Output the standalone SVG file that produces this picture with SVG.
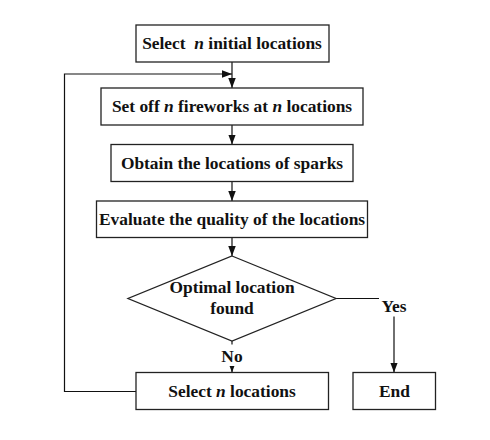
<svg xmlns="http://www.w3.org/2000/svg" width="490" height="440" viewBox="0 0 490 440">
<style>
.box{fill:#fff;stroke:#222;stroke-width:1.3}
.ln{fill:none;stroke:#111;stroke-width:1.2}
.t{font-family:"Liberation Serif","Times New Roman",serif;font-weight:bold;font-size:17.4px;fill:#111;text-anchor:middle}
.i{font-style:italic}
.bg{fill:#fff;stroke:none}
</style>
<defs>
<marker id="ah" markerUnits="userSpaceOnUse" markerWidth="10" markerHeight="8" refX="10" refY="3.75" orient="auto">
<path d="M0,0 L10,3.75 L0,7.5 z" fill="#111"/>
</marker>
</defs>
<rect width="490" height="440" fill="#fff"/>
<g id="connectors">
<path class="ln" d="M232,62 V88" marker-end="url(#ah)"/>
<path class="ln" d="M136,391.5 H64.5 V74 H232" marker-end="url(#ah)"/>
<path class="ln" d="M232,125 V144.5" marker-end="url(#ah)"/>
<path class="ln" d="M232,181.5 V201" marker-end="url(#ah)"/>
<path class="ln" d="M232,237.5 V256" marker-end="url(#ah)"/>
<path class="ln" d="M336,298.5 H394 V372.5" marker-end="url(#ah)"/>
<path class="ln" d="M232,341 V372.5" marker-end="url(#ah)"/>
<rect class="bg" x="379" y="296" width="31" height="20.5"/>
<text class="t" x="394" y="311.5">Yes</text>
<rect class="bg" x="219" y="344.5" width="26" height="21.5"/>
<text class="t" x="232" y="361.5">No</text>
</g>
<g id="n1">
<rect class="box" x="136" y="25" width="193" height="37"/>
<text class="t" x="232" y="48.5" xml:space="preserve">Select  <tspan class="i">n</tspan> initial locations</text>
</g>
<g id="n2">
<rect class="box" x="101" y="88" width="262" height="37"/>
<text class="t" x="232" y="112">Set off <tspan class="i">n</tspan> fireworks at <tspan class="i">n</tspan> locations</text>
</g>
<g id="n3">
<rect class="box" x="111" y="144.5" width="242" height="37"/>
<text class="t" x="232" y="168.5">Obtain the locations of sparks</text>
</g>
<g id="n4">
<rect class="box" x="96.5" y="201" width="271" height="36.5"/>
<text class="t" x="232" y="224.5">Evaluate the quality of the locations</text>
</g>
<g id="n5">
<polygon class="box" points="232,256 336,298.5 232,341 128,298.5"/>
<text class="t" x="232" y="292.5">Optimal location</text>
<text class="t" x="232" y="313.5">found</text>
</g>
<g id="n6">
<rect class="box" x="136" y="372.5" width="192.5" height="37"/>
<text class="t" x="232" y="397">Select <tspan class="i">n</tspan> locations</text>
</g>
<g id="n7">
<rect class="box" x="353" y="372.5" width="82.5" height="37"/>
<text class="t" x="394.5" y="397">End</text>
</g>
</svg>
